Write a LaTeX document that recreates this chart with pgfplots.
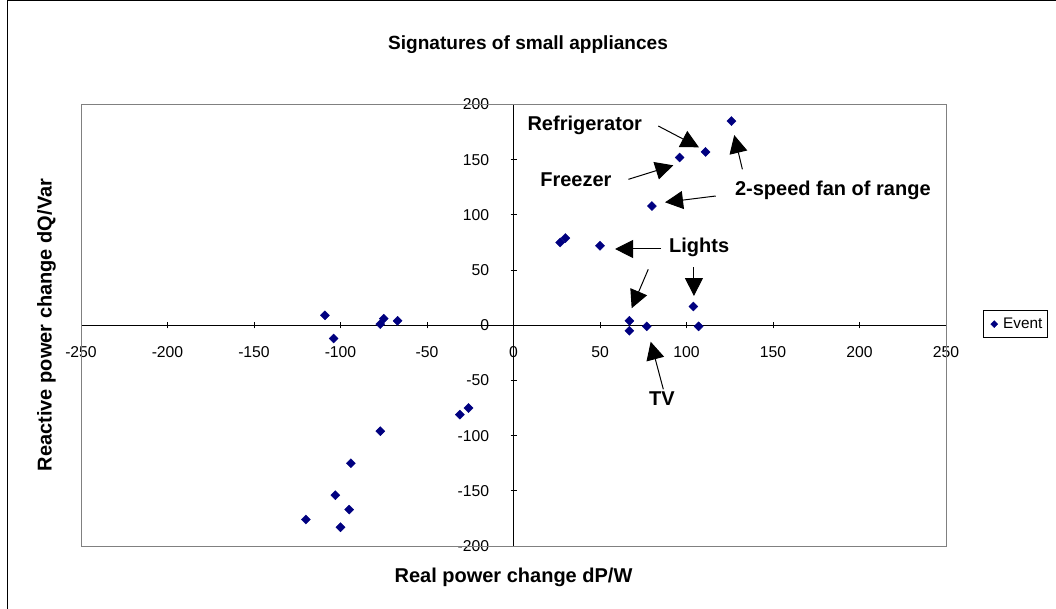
\documentclass[border=0pt]{standalone}
\usepackage{fontspec}
\setmainfont{Liberation Sans}
\usepackage{pgfplots}
\usepackage{pgfplotstable}
\pgfplotsset{compat=1.18}
\usetikzlibrary{arrows.meta}
\definecolor{navyx}{RGB}{0,0,128}
\pgfplotstableread{
x y
126 185
111 157
96 152
80 108
50 72
27 75
30 79
67 4
67 -5
77 -1
104 17
107 -1
-109 9
-104 -12
-77 1
-75 6
-67 4
-26 -75
-31 -81
-77 -96
-94 -125
-103 -154
-95 -167
-120 -176
-100 -183
}\events
\begin{document}
\begin{tikzpicture}
\begin{axis}[
  at={(60.75pt,-409.5pt)}, anchor=south west,
  scale only axis, width=648.75pt, height=331.125pt,
  xmin=-250, xmax=250, ymin=-200, ymax=200,
  clip=false,
  axis lines=middle,
  axis line style={-, black, line width=0.75pt},
  every inner x axis line/.append style={-},
  every inner y axis line/.append style={-},
  hide obscured x ticks=false, hide obscured y ticks=false,
  xtick={-250,-200,-150,-100,-50,0,50,100,150,200,250},
  xticklabels={-250,-200,-150,-100,-50,0,50,100,150,200,250},
  ytick={-200,-150,-100,-50,0,50,100,150,200},
  yticklabels={-200,-150,-100,-50,0,50,100,150,200},
  tick align=center, major tick length=4.5pt,
  tick style={black, line width=0.75pt},
  xticklabel style={font=\fontsize{11.8}{13}\selectfont, anchor=north, yshift=-10pt},
  yticklabel style={font=\fontsize{11.8}{13}\selectfont, anchor=east, xshift=-12.5pt},
  legend style={at={(1.0424,0.5345)}, anchor=north west, draw=black, line width=0.75pt,
    font=\fontsize{11.5}{13}\selectfont, inner xsep=2pt, inner ysep=3.5pt},
  legend image code/.code={\node[draw=none, fill=none, inner sep=0pt, minimum width=11pt, minimum height=1pt] at (5.5pt,0pt) {}; \path plot[mark=square*, mark size=1.9pt, mark options={rotate=45, fill=navyx, draw=navyx, line width=0.3pt}] coordinates {(6.3pt,0pt)};},
]
\draw[gray, line width=0.75pt] (rel axis cs:0,0) rectangle (rel axis cs:1,1);
\addplot[only marks, mark=square*, mark size=2.4pt, mark options={rotate=45, fill=navyx, draw=navyx, line width=0.3pt}] table[x=x, y=y] {\events};
\addlegendentry{Event}
% annotations
\begin{scope}[line width=0.75pt, -{Triangle[length=13.5pt,width=13.5pt]}]
\draw (axis cs:83.7,180.5) -- (axis cs:107.2,161.2);
\draw (axis cs:66.4,132.2) -- (axis cs:92.4,144.9);
\draw (axis cs:132.3,141.3) -- (axis cs:127.6,172.3);
\draw (axis cs:116.9,117.1) -- (axis cs:87.6,111.4);
\draw (axis cs:85.3,69.1) -- (axis cs:58.7,69.1);
\draw (axis cs:77.9,50.7) -- (axis cs:68.3,15.4);
\draw (axis cs:104.3,52.5) -- (axis cs:104.3,26.5);
\draw (axis cs:86.6,-58.0) -- (axis cs:79.3,-14.9);
\end{scope}
\begin{scope}[font=\bfseries\fontsize{15}{17}\selectfont]
\node at (axis cs:41.2,180.8) {Refrigerator};
\node at (axis cs:36.1,132.2) {Freezer};
\node at (axis cs:184.6,122.5) {2-speed fan of range};
\node at (axis cs:107.3,70.6) {Lights};
\node at (axis cs:85.8,-66.2) {TV};
\end{scope}
\end{axis}
\begin{scope}[x=0.75pt, y=-0.75pt]
\draw[black, line width=0.75pt] (7.5,609) -- (7.5,0.5) -- (1056,0.5);
\node[font=\bfseries\fontsize{14.3}{16}\selectfont] at (528,45) {Signatures of small appliances};
\node[font=\bfseries\fontsize{15}{17}\selectfont] at (513.5,577) {Real power change dP/W};
\node[font=\bfseries\fontsize{15}{17}\selectfont, rotate=90] at (46.5,325) {Reactive power change dQ/Var};
\pgfresetboundingbox
\path[use as bounding box] (0,0) rectangle (1056,609);
\end{scope}
\end{tikzpicture}
\end{document}
